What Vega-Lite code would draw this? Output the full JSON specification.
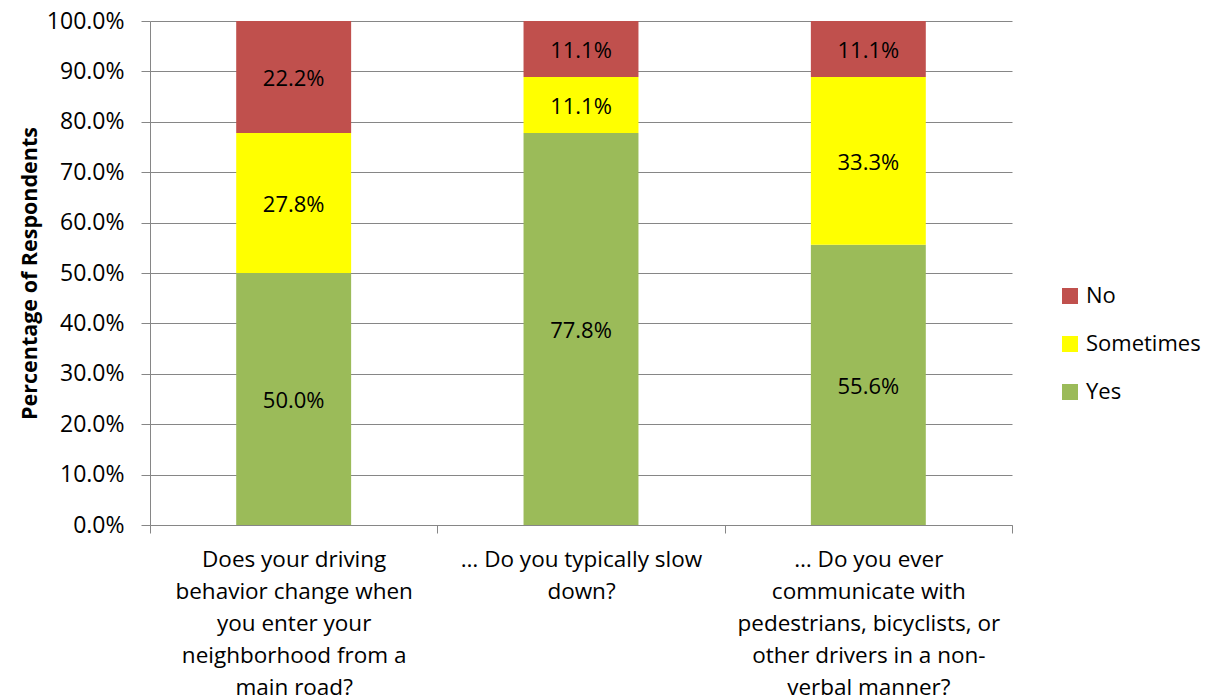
{
  "$schema": "https://vega.github.io/schema/vega-lite/v6.json",
  "width": 862,
  "height": 504,
  "autosize": {"type": "none"},
  "padding": {"left": 150, "top": 21, "right": 194, "bottom": 175},
  "background": "white",
  "config": {
    "font": "Open Sans",
    "view": {"stroke": null}
  },
  "data": {
    "values": [
      {"question": "Q1", "response": "Yes", "order": 1, "share": 0.5},
      {"question": "Q1", "response": "Sometimes", "order": 2, "share": 0.278},
      {"question": "Q1", "response": "No", "order": 3, "share": 0.222},
      {"question": "Q2", "response": "Yes", "order": 1, "share": 0.778},
      {"question": "Q2", "response": "Sometimes", "order": 2, "share": 0.111},
      {"question": "Q2", "response": "No", "order": 3, "share": 0.111},
      {"question": "Q3", "response": "Yes", "order": 1, "share": 0.556},
      {"question": "Q3", "response": "Sometimes", "order": 2, "share": 0.333},
      {"question": "Q3", "response": "No", "order": 3, "share": 0.111}
    ]
  },
  "transform": [
    {"stack": "share", "groupby": ["question"], "sort": [{"field": "order", "order": "ascending"}], "as": ["lo", "hi"]},
    {"calculate": "(datum.lo + datum.hi) / 2", "as": "mid"}
  ],
  "encoding": {
    "x": {
      "field": "question",
      "type": "nominal",
      "sort": ["Q1", "Q2", "Q3"],
      "scale": {"paddingInner": 0, "paddingOuter": 0},
      "axis": {
        "title": null,
        "labelAngle": 0,
        "labelFontSize": 22.5,
        "labelLineHeight": 32,
        "labelColor": "#000000",
        "labelBaseline": "top",
        "labelPadding": 15,
        "labelLimit": 0,
        "tickBand": "extent",
        "tickSize": 8,
        "tickColor": "#868686",
        "domainColor": "#868686",
        "labelExpr": "datum.value == 'Q1' ? ['Does your driving', 'behavior change when', 'you enter your', 'neighborhood from a', 'main road?'] : datum.value == 'Q2' ? ['… Do you typically slow', 'down?'] : datum.value == 'Q3' ? ['… Do you ever', 'communicate with', 'pedestrians, bicyclists, or', 'other drivers in a non-', 'verbal manner?'] : ''"
      }
    }
  },
  "layer": [
    {
      "mark": {"type": "bar", "width": {"band": 0.4}},
      "encoding": {
        "y": {
          "field": "lo",
          "type": "quantitative",
          "scale": {"domain": [0, 1], "nice": false},
          "axis": {
            "title": "Percentage of Respondents",
            "titleFontSize": 21.5,
            "titleFontWeight": "bold",
            "titleColor": "#000000",
            "titlePadding": 5,
            "format": ".1%",
            "values": [0, 0.1, 0.2, 0.3, 0.4, 0.5, 0.6, 0.7, 0.8, 0.9, 1],
            "labelFontSize": 23,
            "labelColor": "#000000",
            "labelPadding": 17,
            "tickSize": 9,
            "tickColor": "#868686",
            "domainColor": "#868686",
            "gridColor": "#868686",
            "gridOpacity": 1
          }
        },
        "y2": {"field": "hi"},
        "color": {
          "field": "response",
          "type": "nominal",
          "scale": {"domain": ["No", "Sometimes", "Yes"], "range": ["#C0504D", "#FFFF00", "#9BBB59"]},
          "legend": {
            "title": null,
            "orient": "none",
            "legendX": 909,
            "legendY": 264,
            "symbolType": "square",
            "symbolSize": 256,
            "symbolStrokeWidth": 0,
            "labelFontSize": 22,
            "labelColor": "#000000",
            "labelOffset": 5,
            "rowPadding": 26
          }
        }
      }
    },
    {
      "mark": {"type": "text", "fontSize": 22, "color": "#000000", "baseline": "middle", "dy": 2},
      "encoding": {
        "y": {"field": "mid", "type": "quantitative"},
        "text": {"field": "share", "type": "quantitative", "format": ".1%"}
      }
    }
  ]
}
